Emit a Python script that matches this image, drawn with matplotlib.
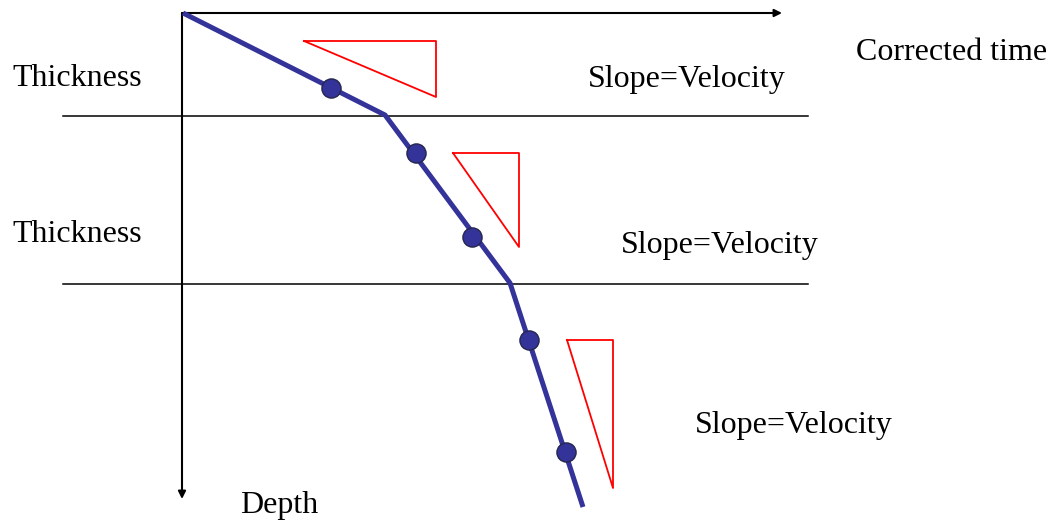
import matplotlib.pyplot as plt

# Time-depth curve through three layers (time along x, depth down y)
curve_time = [183, 385, 510, 583]
curve_depth = [13, 115, 283, 507]

# Sample points picked along the curve
sample_time = [331, 416, 472, 529, 566]
sample_depth = [88, 153, 237, 340, 452]

# Layer boundaries
interface_depths = [116, 284]

# Slope triangles: (left time, right time, top depth, bottom depth)
tri_left = [304, 453, 567]
tri_right = [436, 519, 613]
tri_top = [41, 153, 340]
tri_bottom = [97, 247, 488]

# Labels
thickness_label = 'Thickness'
thickness_pos = [(12, 75), (12, 231)]
slope_label = 'Slope=Velocity'
slope_pos = [(588, 77), (621, 243), (695, 422)]

plt.rcParams['font.family'] = ['Liberation Serif', 'DejaVu Serif']

fig = plt.figure(figsize=(10.55, 5.25), dpi=100)
ax = fig.add_axes([0, 0, 1, 1])
ax.set_xlim(0, 1055)
ax.set_ylim(525, 0)
ax.axis('off')

# Axes with arrow heads
arrow = dict(arrowstyle='-|>', color='black', lw=1.5, mutation_scale=11, shrinkA=0, shrinkB=0)
ax.annotate('', xy=(782, 13), xytext=(182, 13), arrowprops=arrow)
ax.annotate('', xy=(182, 499), xytext=(182, 13), arrowprops=arrow)

for d in interface_depths:
    ax.plot([63, 808], [d, d], color='black', lw=1.1)

ax.plot(curve_time, curve_depth, color='#333399', lw=3.6, solid_joinstyle='round',
        solid_capstyle='butt', zorder=3)
ax.scatter(sample_time, sample_depth, s=190, color='#333399', edgecolors='#26264d',
           linewidths=1, zorder=4)

for l, r, t, b in zip(tri_left, tri_right, tri_top, tri_bottom):
    ax.plot([l, r, r, l], [t, t, b, t], color='red', lw=1.3)

# va='center' sits a little high for this font, so nudge labels down
dy = 3
for x, y in thickness_pos:
    ax.text(x, y + dy, thickness_label, fontsize=23, va='center', ha='left')
for x, y in slope_pos:
    ax.text(x, y + dy, slope_label, fontsize=23, va='center', ha='left')
ax.text(856, 50 + dy, 'Corrected time', fontsize=23, va='center', ha='left')
ax.text(240, 503 + dy, 'Depth', fontsize=23, va='center', ha='left')

fig.savefig('out.png', dpi=100)
